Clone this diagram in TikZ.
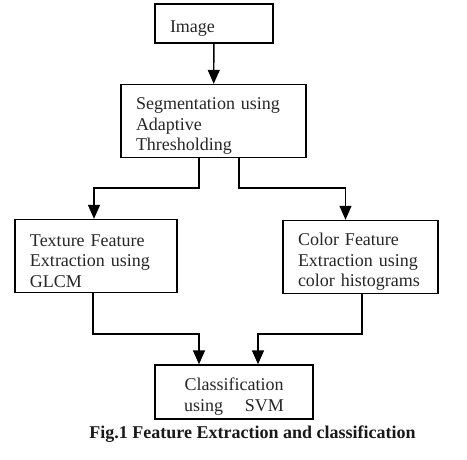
\documentclass[tikz,border=0pt]{standalone}
\usepackage{fontspec}
\setmainfont{Liberation Serif}
\usetikzlibrary{arrows.meta}

\begin{document}
\begin{tikzpicture}[x=1pt,y=-1pt,>={Triangle[length=14pt,width=12pt]},line width=1.4pt,
    box/.style={draw,rectangle,align=left,inner xsep=15pt,inner ysep=0pt,
      font=\fontsize{18}{20.5}\selectfont,text=black!85,
      execute at begin node={\rule{0pt}{22pt}}}]
    \useasboundingbox (0,0) rectangle (467,459);
                \node[box,text width=88pt,minimum height=39pt]   (img) at (214,23.5) {Image};
                \node[box,text width=155pt,minimum height=73pt]  (seg) at (213.5,121) {Segmentation using\\Adaptive\\Thresholding};
                \node[box,text width=132pt,minimum height=73pt]  (tex) at (96,256)   {Texture Feature\\Extraction using\\GLCM};
                \node[box,text width=125pt,minimum height=73pt]  (col) at (360.5,257) {Color Feature\\Extraction using\\color histograms};
                \node[box,align=center,text width=128pt,minimum height=54pt] (cls) at (234,392) {Classification\\using\hspace{1.2em}SVM};
                \node[font=\fontsize{18}{20}\selectfont\bfseries,text=black!90] (cap) at (252.5,434) {Fig.1 Feature Extraction and classification};

                \coordinate (s1) at (199,188);
                \coordinate (s2) at (239,188);
                \coordinate (m1) at (199,334);
                \coordinate (m2) at (258,334);

                    \path[->] (img) edge (seg);
                    \draw[->] (seg.south -| s1) -- (s1) -| ([xshift=-2pt]tex.north);
                    \draw[->] (seg.south -| s2) -- (s2) -| ([xshift=-15pt]col.north);
                    \draw[->] ([xshift=-3pt]tex.south) |- (m1) -- (cls.north -| m1);
                    \draw[->] ([xshift=1.5pt]col.south) |- (m2) -- (cls.north -| m2);
            \end{tikzpicture}
\end{document}
